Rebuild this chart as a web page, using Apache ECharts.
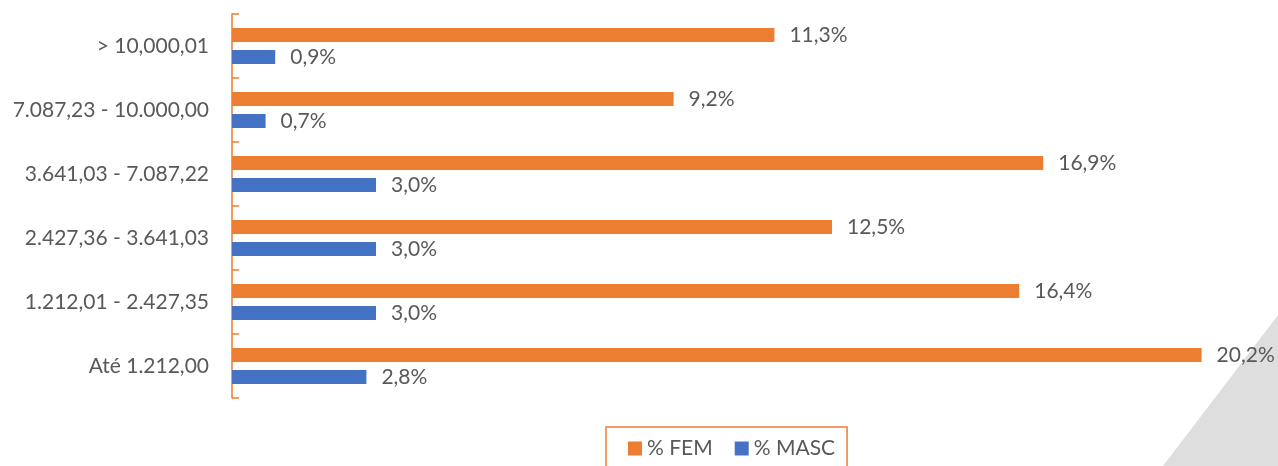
<!DOCTYPE html>
<html>
<head>
<meta charset="utf-8">
<script src="https://cdn.jsdelivr.net/npm/echarts@6/dist/echarts.min.js"></script>
<style>
  html, body { margin: 0; padding: 0; background: #fff; }
  #chart { width: 1278px; height: 466px; }
</style>
</head>
<body>
<div id="chart"></div>
<script>
// faixas salariais, de baixo para cima
const categorias = ['Até 1.212,00', '1.212,01 - 2.427,35', '2.427,36 - 3.641,03', '3.641,03 - 7.087,22', '7.087,23 - 10.000,00', '> 10,000,01']
const fem = [20.2, 16.4, 12.5, 16.9, 9.2, 11.3]
const masc = [2.8, 3.0, 3.0, 3.0, 0.7, 0.9]

const cinza = '#595959'
const laranja = '#ED7D31'
const azul = '#4472C4'

const fmt = p => p.value.toFixed(1).replace('.', ',') + '%'

const chart = echarts.init(document.getElementById('chart'))
const rotulo = {
    show: true,
    position: 'right',
    distance: 15,
    color: cinza,
    fontSize: 21,
    fontFamily: 'Lato',
    formatter: fmt
}
chart.setOption({
    animation: false,
    textStyle: { fontFamily: 'Lato' },
    grid: { left: 232, right: 38, top: 14, bottom: 68 },
    xAxis: {
        type: 'value',
        min: 0,
        max: 21,
        show: false
    },
    yAxis: {
        type: 'category',
        data: categorias,
        axisLine: { show: true, lineStyle: { color: laranja, width: 1.5 } },
        axisTick: { show: true, inside: true, length: 7, lineStyle: { color: laranja, width: 1.5 } },
        axisLabel: { color: cinza, fontSize: 21, margin: 23, fontFamily: 'Lato' }
    },
    legend: {
        data: ['% FEM', '% MASC'],
        left: 606,
        top: 427,
        icon: 'rect',
        itemWidth: 14,
        itemHeight: 14,
        itemGap: 22,
        padding: [11, 12, 30, 22],
        borderColor: laranja,
        borderWidth: 1.5,
        textStyle: { color: cinza, fontSize: 21, fontFamily: 'Lato' }
    },
    graphic: [{
        type: 'polygon',
        z: -10,
        shape: { points: [[1278, 315], [1278, 466], [1163, 466]] },
        style: { fill: '#dedede' }
    }],
    series: [
        {
            name: '% FEM',
            type: 'bar',
            data: fem,
            barWidth: 14,
            barGap: '57%',
            itemStyle: { color: laranja },
            label: rotulo
        },
        {
            name: '% MASC',
            type: 'bar',
            data: masc,
            barWidth: 14,
            barGap: '57%',
            itemStyle: { color: azul },
            label: rotulo
        }
    ]
})
</script>
</body>
</html>
